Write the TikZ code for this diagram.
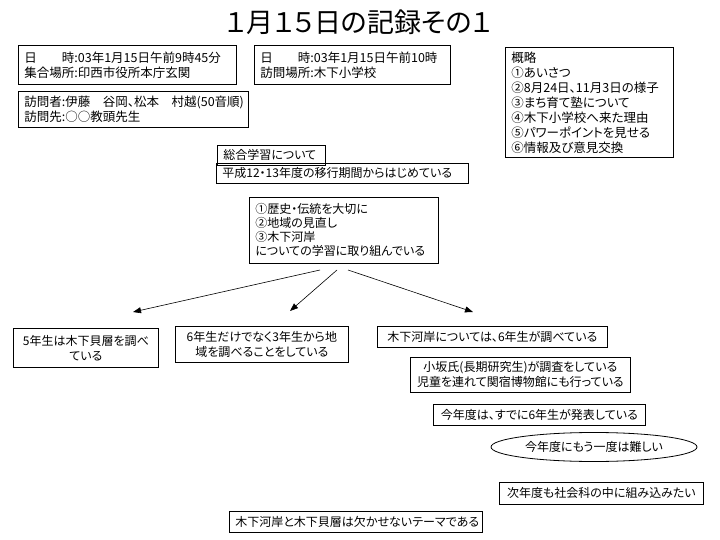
\documentclass[tikz,border=0pt]{standalone}
\usepackage{fontspec}
\setmainfont{Noto Sans CJK JP}[RawFeature={+palt}]
\usetikzlibrary{arrows.meta,shapes.geometric}

\tikzset{
  box/.style={draw, line width=0.8pt, anchor=north west, inner xsep=6pt, inner ysep=0pt, align=left},
  cbox/.style={box, align=center},
  link/.style={-{Triangle[length=8pt,width=6pt]}, line width=0.6pt}
}

\begin{document}
\begin{tikzpicture}[x=1pt, y=-1pt, every node/.style={font=\fontsize{12}{15}\selectfont}]
	\useasboundingbox (0,0) rectangle (720,540);

	\node[font=\fontsize{27}{30}\selectfont] (title) at (359,22) {１月１５日の記録その１};

	% top row
	\node[box, text width=206, minimum height=39, font=\fontsize{12.5}{15}\selectfont] (meet) at (18,45) {日　　時:03年1月15日午前9時45分\\集合場所:印西市役所本庁玄関};
	\node[box, text width=184, minimum height=39, font=\fontsize{12.5}{15}\selectfont] (visit) at (254,45) {日　　時:03年1月15日午前10時\\訪問場所:木下小学校};
	\node[box, text width=218, minimum height=36, font=\fontsize{12.5}{15}\selectfont] (members) at (18,91) {訪問者:伊藤　谷岡、松本　村越(50音順)\\訪問先:○○教頭先生};
	\node[box, text width=156, minimum height=110, font=\fontsize{12.5}{15}\selectfont] (outline) at (505,47) {概略\\①あいさつ\\②8月24日、11月3日の様子\\③まち育て塾について\\④木下小学校へ来た理由\\⑤パワーポイントを見せる\\⑥情報及び意見交換};

	\node[box, text width=96, minimum height=20] (sogo) at (217,145) {総合学習について};
	\node[box, text width=240, minimum height=20] (start) at (216,163) {平成12・13年度の移行期間からはじめている};
	\node[box, text width=177, minimum height=66, font=\fontsize{12}{14}\selectfont] (focus) at (249,197) {①歴史・伝統を大切に\\②地域の見直し\\③木下河岸\\についての学習に取り組んでいる};

	% arrows
	\coordinate (s1) at (320,270);
	\coordinate (s2) at (337,270);
	\coordinate (s3) at (348,270);
	\coordinate (e1) at (133,312);
	\coordinate (e2) at (290,311);
	\coordinate (e3) at (473,312);
	\draw[link] (s1) -- (e1);
	\draw[link] (s2) -- (e2);
	\draw[link] (s3) -- (e3);

	% lower boxes
	\node[cbox, text width=133, minimum height=39] (shell) at (13,328) {5年生は木下貝層を調べ\\ている};
	\node[cbox, text width=161, minimum height=36] (area) at (175,326) {6年生だけでなく3年生から地\\域を調べることをしている};
	\node[cbox, text width=218, minimum height=21] (river) at (377,326) {木下河岸については、6年生が調べている};
	\node[cbox, text width=208, minimum height=35] (kosaka) at (410,357) {小坂氏(長期研究生)が調査をしている\\児童を連れて関宿博物館にも行っている};
	\node[cbox, text width=200, minimum height=21] (done) at (433,404) {今年度は、すでに6年生が発表している};
	\node[draw, ellipse, line width=0.8pt, minimum width=206, minimum height=29, inner sep=0pt] (hard) at (594,447) {今年度にもう一度は難しい};
	\node[cbox, text width=192, minimum height=22] (next) at (499,482) {次年度も社会科の中に組み込みたい};
	\node[cbox, text width=241, minimum height=21] (theme) at (229,511) {木下河岸と木下貝層は欠かせないテーマである};
\end{tikzpicture}
\end{document}
